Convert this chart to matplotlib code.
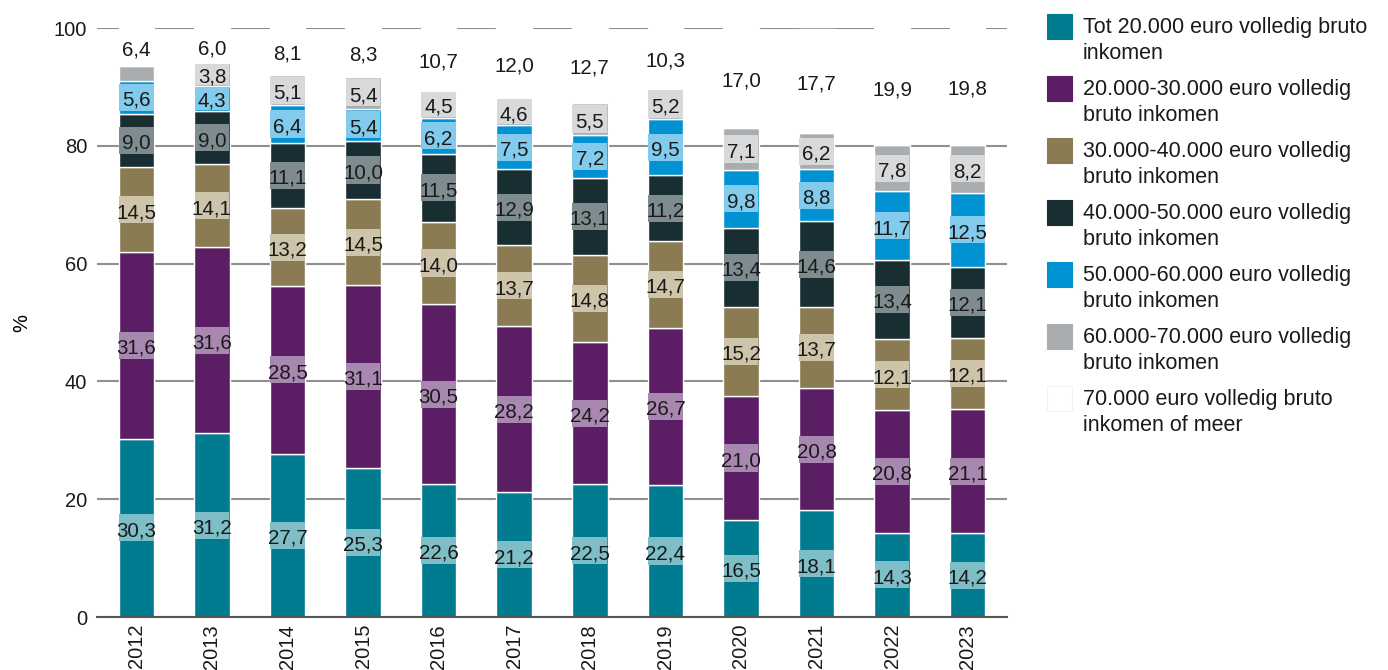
import matplotlib.pyplot as plt
from matplotlib.patches import Rectangle
import numpy as np

plt.rcParams['font.family'] = ['Liberation Sans', 'DejaVu Sans']

years = ['2012', '2013', '2014', '2015', '2016', '2017',
         '2018', '2019', '2020', '2021', '2022', '2023']

tot_20k = [30.3, 31.2, 27.7, 25.3, 22.6, 21.2, 22.5, 22.4, 16.5, 18.1, 14.3, 14.2]
k20_30 = [31.6, 31.6, 28.5, 31.1, 30.5, 28.2, 24.2, 26.7, 21.0, 20.8, 20.8, 21.1]
k30_40 = [14.5, 14.1, 13.2, 14.5, 14.0, 13.7, 14.8, 14.7, 15.2, 13.7, 12.1, 12.1]
k40_50 = [9.0, 9.0, 11.1, 10.0, 11.5, 12.9, 13.1, 11.2, 13.4, 14.6, 13.4, 12.1]
k50_60 = [5.6, 4.3, 6.4, 5.4, 6.2, 7.5, 7.2, 9.5, 9.8, 8.8, 11.7, 12.5]
k60_70 = [2.6, 3.8, 5.1, 5.4, 4.5, 4.6, 5.5, 5.2, 7.1, 6.2, 7.8, 8.2]
k70_plus = [6.4, 6.0, 8.1, 8.3, 10.7, 12.0, 12.7, 10.3, 17.0, 17.7, 19.9, 19.8]

series = [tot_20k, k20_30, k30_40, k40_50, k50_60, k60_70, k70_plus]
labels = ['Tot 20.000 euro volledig bruto\ninkomen',
          '20.000-30.000 euro volledig\nbruto inkomen',
          '30.000-40.000 euro volledig\nbruto inkomen',
          '40.000-50.000 euro volledig\nbruto inkomen',
          '50.000-60.000 euro volledig\nbruto inkomen',
          '60.000-70.000 euro volledig\nbruto inkomen',
          '70.000 euro volledig bruto\ninkomen of meer']
colors = ['#007B8F', '#5B1E64', '#8B7B52', '#182E32', '#0092D2', '#AAADB0', '#FFFFFF']
tints = ['#7DBEC7', '#A888B1', '#CDC4AA', '#7F8C8F', '#82CBEC', '#D8D9DB', '#FFFFFF']

fig = plt.figure(figsize=(13.88, 6.70), dpi=100)
ax = fig.add_axes([0.0699, 0.0791, 0.6556, 0.8791])

x = np.arange(len(years))
width = 0.47
band = 4.6
bottom = np.zeros(len(years))

for vals, col, tint in zip(series, colors, tints):
    vals = np.array(vals)
    ax.bar(x, vals, width, bottom=bottom, color=col, edgecolor='white',
           linewidth=1, zorder=2)
    mid = bottom + vals / 2
    for xi, v, m in zip(x, vals, mid):
        if v < 3:
            continue
        if col != '#FFFFFF':
            h = min(band, v - 0.3)
            ax.bar(xi, h, width - 0.01, bottom=m - h / 2, color=tint,
                   linewidth=0, zorder=3)
        ax.text(xi, m - 0.5, f'{v:.1f}'.replace('.', ','), ha='center',
                va='center', fontsize=14.8, color='#1a1a1a', zorder=4)
    bottom += vals

ax.set_xlim(-0.52, len(years) - 0.48)
ax.set_ylim(0, 100)
ax.set_yticks([0, 20, 40, 60, 80, 100])
ax.set_xticks(x)
ax.set_xticklabels(years, rotation=90)
ax.tick_params(axis='both', length=0, labelsize=14.5, colors='#1a1a1a')
ax.tick_params(axis='y', pad=7)
ax.tick_params(axis='x', pad=5)
ax.yaxis.grid(True, color='#8f8f8f', linewidth=1.5, zorder=0)
ax.set_axisbelow(True)
for side in ['top', 'right', 'left']:
    ax.spines[side].set_visible(False)
ax.spines['bottom'].set_color('#555555')
ax.spines['bottom'].set_linewidth(1.5)
ax.spines['bottom'].set_zorder(5)
ax.set_ylabel('%', fontsize=14.5, labelpad=16)

# legend drawn by hand so the swatch sits on the first text line
y0 = 1 - 14 / 670
step = 62 / 670
for i, (lab, col) in enumerate(zip(labels, colors)):
    yt = y0 - i * step
    edge = '#f2f2f2' if col == '#FFFFFF' else col
    fig.patches.append(Rectangle((1047 / 1388, yt - 25 / 670), 25 / 1388, 25 / 670,
                                 transform=fig.transFigure, facecolor=col,
                                 edgecolor=edge, linewidth=0.8))
    fig.text(1083 / 1388, yt - 3 / 670, lab, ha='left', va='top', fontsize=15.5,
             color='#1a1a1a', linespacing=1.3)

fig.savefig('out.png', dpi=100)
